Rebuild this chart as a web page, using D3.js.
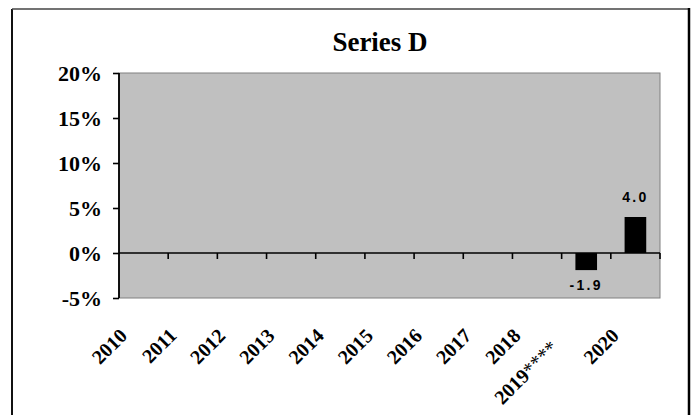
<!DOCTYPE html>
<html>
<head>
<meta charset="utf-8">
<script src="https://cdn.jsdelivr.net/npm/d3@7"></script>
<style>
  html, body { margin: 0; padding: 0; background: #fff; }
  svg { display: block; }
</style>
</head>
<body>
<svg id="chart" width="694" height="415"></svg>
<script>
// ---- data ----
const title = "Series D";
const categories = ["2010", "2011", "2012", "2013", "2014", "2015", "2016", "2017", "2018", "2019****", "2020"];
const values = [null, null, null, null, null, null, null, null, null, -1.9, 4.0];
const yTicks = [-5, 0, 5, 10, 15, 20];

// ---- layout ----
const W = 694, H = 415;
const plot = { left: 119, right: 660, top: 73, bottom: 298 };
const svg = d3.select("#chart");

// outer frame
svg.append("line").attr("x1", 12).attr("x2", 12).attr("y1", 9).attr("y2", H + 5)
  .attr("stroke", "#111").attr("stroke-width", 2);
svg.append("line").attr("x1", 12).attr("x2", 689).attr("y1", 9).attr("y2", 9)
  .attr("stroke", "#444").attr("stroke-width", 1.5);
svg.append("line").attr("x1", 689).attr("x2", 689).attr("y1", 8).attr("y2", H + 5)
  .attr("stroke", "#000").attr("stroke-width", 2.5);

const x = d3.scaleBand().domain(categories)
  .range([plot.left, plot.right]).paddingInner(0.56).paddingOuter(0.28);
const y = d3.scaleLinear().domain([-5, 20]).range([plot.bottom, plot.top]);

// plot area
svg.append("rect")
  .attr("x", plot.left).attr("y", plot.top)
  .attr("width", plot.right - plot.left).attr("height", plot.bottom - plot.top)
  .attr("fill", "#c0c0c0").attr("stroke", "#808080").attr("stroke-width", 1);

// title
svg.append("text").attr("x", 380).attr("y", 51)
  .attr("text-anchor", "middle")
  .attr("font-family", "'Liberation Serif', 'Times New Roman', serif")
  .attr("font-weight", "bold").attr("font-size", 27)
  .attr("fill", "#000").text(title);

// bars
const data = categories.map((c, i) => ({ c, v: values[i] })).filter(d => d.v !== null);
svg.append("g").selectAll("rect").data(data).join("rect")
  .attr("x", d => x(d.c))
  .attr("width", x.bandwidth())
  .attr("y", d => y(Math.max(0, d.v)))
  .attr("height", d => Math.abs(y(d.v) - y(0)))
  .attr("fill", "#000");

// zero line with category boundary ticks
svg.append("line").attr("x1", plot.left).attr("x2", plot.right)
  .attr("y1", y(0)).attr("y2", y(0)).attr("stroke", "#000").attr("stroke-width", 1.6);
const step = x.step();
svg.append("g").selectAll("line").data(categories).join("line")
  .attr("x1", d => x(d) + x.bandwidth() / 2 + step / 2)
  .attr("x2", d => x(d) + x.bandwidth() / 2 + step / 2)
  .attr("y1", y(0)).attr("y2", y(0) + 6)
  .attr("stroke", "#000").attr("stroke-width", 1.6);

// y axis
const yAxis = svg.append("g")
  .attr("transform", `translate(${plot.left},0)`)
  .call(d3.axisLeft(y).tickValues(yTicks).tickSize(6).tickPadding(11)
    .tickFormat(d => d + "%"));
yAxis.select(".domain").attr("stroke", "#000").attr("stroke-width", 1.8)
  .attr("d", `M0,${plot.top}V${plot.bottom}`);
yAxis.selectAll(".tick line").attr("stroke", "#000").attr("stroke-width", 1.6);
yAxis.selectAll(".tick text")
  .attr("font-family", "'Liberation Serif', 'Times New Roman', serif")
  .attr("font-weight", "bold").attr("font-size", 22).attr("fill", "#000")
  .attr("dy", "0.36em");

// x labels (rotated)
const xl = svg.append("g").selectAll("text").data(categories).join("text")
  .attr("text-anchor", "end")
  .attr("font-family", "'Liberation Serif', 'Times New Roman', serif")
  .attr("font-weight", "bold").attr("font-size", 20).attr("fill", "#000");
xl.each(function (d) {
  const t = d3.select(this);
  const m = d.match(/^(\d+)(\**)$/);
  t.append("tspan").text(m[1]);
  if (m[2]) t.append("tspan").attr("font-weight", "normal").text(m[2]);
});
const baseLen = xl.filter((d, i) => i === 0).node().getComputedTextLength();
xl.attr("transform", function (d) {
  const cx = x(d) + x.bandwidth() / 2 - 15.3;
  const len = this.getComputedTextLength();
  const shift = 0.42 * (len - baseLen);
  return `translate(${cx - shift * 0.7071},${337 + shift * 0.7071}) rotate(-45)`;
});

// data labels
svg.append("g").selectAll("text").data(data).join("text")
  .attr("x", d => x(d.c) + x.bandwidth() / 2)
  .attr("y", d => d.v >= 0 ? y(d.v) - 15.5 : y(d.v) + 20)
  .attr("text-anchor", "middle")
  .attr("font-family", "'Liberation Sans', Arial, sans-serif")
  .attr("font-weight", "bold").attr("font-size", 14)
  .attr("letter-spacing", "2.3px")
  .attr("fill", "#000")
  .text(d => d.v.toFixed(1));
</script>
</body>
</html>
